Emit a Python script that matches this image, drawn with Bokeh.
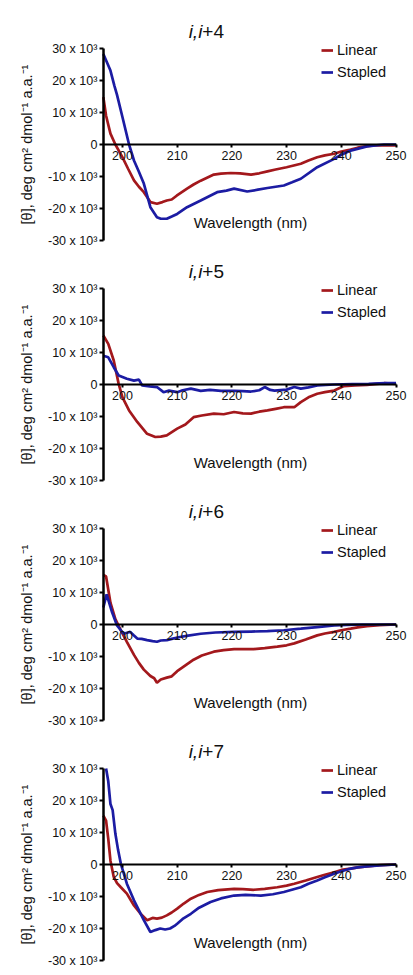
import math
from bokeh.plotting import figure
from bokeh.layouts import column
from bokeh.models import FixedTicker, Label, Range1d
from bokeh.embed import file_html
from bokeh.resources import INLINE

panel_names = ["4", "5", "6", "7"]

wl_i4_linear = [196.5, 197.0, 197.8, 198.7, 200.0, 201.0, 202.1, 203.0, 203.9, 205.1, 206.3, 207.3, 208.1, 209.0, 209.9, 211.8, 213.0, 214.3, 216.7, 218.0, 219.8, 221.5, 223.5, 225.0, 226.5, 228.0, 230.0, 232.6, 234.0, 235.6, 237.0, 238.7, 240.0, 241.7, 243.0, 244.7, 246.0, 247.8, 250.0]
th_i4_linear = [14800, 9000, 3400, 0, -4000, -7500, -11200, -13200, -14900, -18000, -18500, -18000, -17500, -17200, -16000, -13800, -12500, -11300, -9400, -9100, -8900, -9000, -9400, -9000, -8400, -7800, -7100, -6000, -5000, -4000, -3400, -2900, -2200, -1600, -1000, -500, -300, -300, -300]
wl_i4_stapled = [196.5, 197.8, 198.5, 199.0, 200.0, 201.2, 202.1, 203.0, 203.9, 205.1, 206.3, 207.0, 208.1, 209.0, 210.0, 211.8, 214.3, 217.3, 219.0, 220.4, 222.8, 224.5, 226.5, 229.5, 231.0, 232.6, 235.6, 238.7, 240.0, 241.7, 244.7, 247.8, 250.0]
th_i4_stapled = [28300, 23100, 18500, 15500, 8500, 0, -5000, -8500, -12200, -19600, -22700, -23200, -23200, -22500, -21700, -19600, -17500, -14900, -14400, -13800, -14700, -14200, -13600, -12800, -11800, -10700, -7100, -4500, -3200, -1900, -600, 0, 0]

wl_i5_linear = [196.5, 197.4, 198.4, 199.3, 200.0, 201.2, 202.7, 204.5, 206.0, 207.0, 208.1, 210.0, 211.5, 213.0, 214.5, 216.7, 218.5, 220.4, 222.0, 223.5, 225.0, 226.5, 228.0, 229.5, 231.4, 232.6, 234.0, 235.6, 237.0, 238.7, 240.5, 242.5, 244.7, 246.5, 247.8, 250.0]
th_i5_linear = [15300, 12700, 7500, 200, -4000, -8100, -11700, -15400, -16400, -16300, -15900, -13800, -12500, -10200, -9700, -9100, -9300, -8600, -9000, -9100, -8500, -8100, -7600, -7100, -7100, -5500, -4000, -2900, -2400, -1900, -500, -300, -100, 200, 400, 200]
wl_i5_stapled = [196.5, 197.4, 198.4, 199.3, 200.8, 202.1, 203.0, 203.6, 205.0, 206.3, 207.5, 208.5, 210.0, 211.0, 212.5, 214.3, 216.0, 218.0, 220.4, 222.0, 223.5, 225.0, 226.0, 227.0, 227.8, 230.0, 231.4, 232.6, 234.0, 235.6, 238.7, 242.0, 245.0, 248.0, 250.0]
th_i5_stapled = [9000, 8500, 5400, 2800, 1800, 1200, 1500, -300, -600, -800, -2400, -1900, -2400, -1800, -1300, -2000, -1700, -2000, -2000, -2100, -2200, -1800, -800, -1700, -1900, -1600, -800, -1300, -900, -300, 0, 100, 200, 400, 400]

wl_i6_linear = [196.5, 197.0, 197.8, 198.7, 199.7, 200.8, 202.1, 203.0, 203.9, 205.1, 205.8, 206.3, 207.0, 208.1, 209.0, 210.0, 211.5, 213.0, 214.5, 216.7, 218.5, 220.4, 222.0, 224.0, 226.0, 228.3, 230.0, 231.4, 233.5, 235.6, 237.0, 238.7, 240.0, 241.7, 243.0, 244.7, 247.0, 250.0]
th_i6_linear = [15500, 15000, 6800, 1700, -1800, -5400, -9500, -12000, -14100, -16100, -16800, -18200, -17200, -16600, -16200, -14600, -12800, -11000, -9700, -8500, -8000, -7700, -7700, -7700, -7400, -6900, -6500, -5900, -4700, -3400, -2800, -2300, -1800, -1300, -900, -500, -200, 0]
wl_i6_stapled = [196.5, 197.1, 198.1, 199.0, 200.2, 201.0, 201.4, 202.0, 202.7, 203.5, 204.5, 205.5, 206.3, 207.0, 208.1, 209.0, 210.5, 212.0, 214.3, 217.0, 220.4, 223.5, 226.5, 229.5, 232.6, 235.6, 238.7, 241.0, 244.0, 247.0, 250.0]
th_i6_stapled = [5300, 9400, 3800, -300, -2900, -2500, -2300, -3300, -4400, -4500, -4900, -5200, -5400, -5000, -4900, -4500, -3900, -3500, -2900, -2500, -2300, -2200, -2100, -1800, -1300, -800, -300, -100, 0, 0, 0]

wl_i7_linear = [196.5, 197.0, 197.4, 197.8, 198.4, 199.0, 199.7, 200.8, 202.1, 203.3, 204.5, 205.5, 206.3, 207.2, 208.1, 209.0, 210.0, 211.2, 212.5, 214.0, 215.5, 217.5, 220.4, 222.0, 224.0, 226.0, 228.3, 230.0, 231.4, 233.5, 235.6, 237.0, 238.7, 240.0, 241.7, 243.0, 244.7, 247.0, 250.0]
th_i7_linear = [15300, 13700, 8000, 1200, -3900, -5800, -7100, -9100, -12800, -15400, -17400, -16700, -16900, -16600, -15900, -15000, -13800, -12200, -10700, -9500, -8600, -8000, -7600, -7700, -7900, -7600, -7100, -6600, -6000, -5000, -3900, -3200, -2400, -1700, -1300, -900, -600, -200, 0]
wl_i7_stapled = [197.0, 197.4, 197.8, 198.2, 198.7, 199.2, 199.7, 200.8, 202.1, 203.9, 205.1, 206.0, 206.9, 207.8, 208.7, 209.5, 210.0, 211.0, 212.5, 214.0, 216.1, 218.0, 220.4, 222.5, 225.3, 227.5, 229.5, 232.6, 234.0, 235.6, 237.0, 238.7, 240.0, 241.7, 243.0, 244.7, 247.0, 250.0]
th_i7_stapled = [30000, 26000, 18900, 17000, 9600, 4500, 200, -6000, -11200, -17400, -21100, -20500, -20000, -20300, -20000, -19200, -18500, -17000, -15400, -13500, -11700, -10600, -9700, -9500, -9700, -9300, -8600, -7100, -6000, -5000, -4000, -2900, -2100, -1300, -900, -600, -300, 0]

series = {
    "4": (wl_i4_linear, th_i4_linear, wl_i4_stapled, th_i4_stapled),
    "5": (wl_i5_linear, th_i5_linear, wl_i5_stapled, th_i5_stapled),
    "6": (wl_i6_linear, th_i6_linear, wl_i6_stapled, th_i6_stapled),
    "7": (wl_i7_linear, th_i7_linear, wl_i7_stapled, th_i7_stapled),
}

x_ticks = [200, 210, 220, 230, 240, 250]
y_ticks = [-30000, -20000, -10000, 0, 10000, 20000, 30000]
y_tick_labels = ["-30 x 10³", "-20 x 10³", "-10 x 10³", "0", "10 x 10³", "20 x 10³", "30 x 10³"]
legend_labels = ["Linear", "Stapled"]
y_title = "[θ], deg cm² dmol⁻¹ a.a.⁻¹"
x_title = "Wavelength (nm)"

RED = "#a3181c"
BLUE = "#1c1ca3"
FONT = "Liberation Sans"
INK = "#111111"

figs = []
for i, name in enumerate(panel_names):
    wl_l, th_l, wl_s, th_s = series[name]
    top = 8 if i == 0 else 0
    p = figure(width=410, height=240 + top, output_backend="svg", toolbar_location=None,
               x_range=Range1d(177.70, 252.65), y_range=Range1d(-32500, 42500),
               min_border_left=0, min_border_right=0, min_border_top=top, min_border_bottom=0)
    p.title.visible = False
    p.outline_line_color = None
    p.grid.visible = False
    p.background_fill_color = "white"
    p.border_fill_color = "white"

    p.line(wl_l, th_l, line_color=RED, line_width=2.7, legend_label=legend_labels[0])
    p.line(wl_s, th_s, line_color=BLUE, line_width=2.7, legend_label=legend_labels[1])

    xa = p.xaxis[0]
    xa.fixed_location = 0
    xa.bounds = (196.5, 250)
    xa.ticker = FixedTicker(ticks=x_ticks)
    xa.minor_tick_line_color = None
    xa.axis_line_width = 2
    xa.axis_line_color = "black"
    xa.major_tick_line_width = 2
    xa.major_tick_out = 3
    xa.major_tick_in = 0
    xa.major_label_standoff = 3
    xa.major_label_text_font = FONT
    xa.major_label_text_font_size = "12.5px"
    xa.major_label_text_color = INK

    ya = p.yaxis[0]
    ya.fixed_location = 196.5
    ya.bounds = (-30000, 30000)
    ya.ticker = FixedTicker(ticks=y_ticks)
    ya.major_label_overrides = {t: s for t, s in zip(y_ticks, y_tick_labels)}
    ya.minor_tick_line_color = None
    ya.axis_line_width = 2.5
    ya.axis_line_color = "black"
    ya.major_tick_line_width = 2
    ya.major_tick_out = 4
    ya.major_tick_in = 0
    ya.major_label_standoff = 2
    ya.major_label_text_font = FONT
    ya.major_label_text_font_size = "12.5px"
    ya.major_label_text_color = INK

    p.add_layout(Label(x=182.6, y=0, text=y_title, angle=math.pi / 2, text_align="center",
                       text_baseline="middle", text_font=FONT, text_font_size="14.5px", text_color=INK))

    p.add_layout(Label(x=223.4, y=-24400, text=x_title, text_align="center", text_baseline="middle",
                       text_font=FONT, text_font_size="15px", text_color=INK))

    p.add_layout(Label(x=214.6, y=35300, text="i,i", text_align="right", text_baseline="alphabetic",
                       text_font=FONT, text_font_size="19px", text_font_style="italic", text_color=INK))
    p.add_layout(Label(x=214.6, y=35300, text="+" + name, text_align="left", text_baseline="alphabetic",
                       text_font=FONT, text_font_size="19px", text_color=INK))

    lg = p.legend[0]
    lg.location = (321, 166)
    lg.border_line_color = None
    lg.background_fill_alpha = 0
    lg.padding = 0
    lg.margin = 0
    lg.spacing = 2
    lg.glyph_width = 12
    lg.glyph_height = 20
    lg.label_height = 20
    lg.label_standoff = 4
    lg.label_text_font = FONT
    lg.label_text_font_size = "14.5px"
    lg.label_text_color = INK
    figs.append(p)

layout = column(*figs, spacing=0)
open("out.html", "w").write(file_html(layout, INLINE))
